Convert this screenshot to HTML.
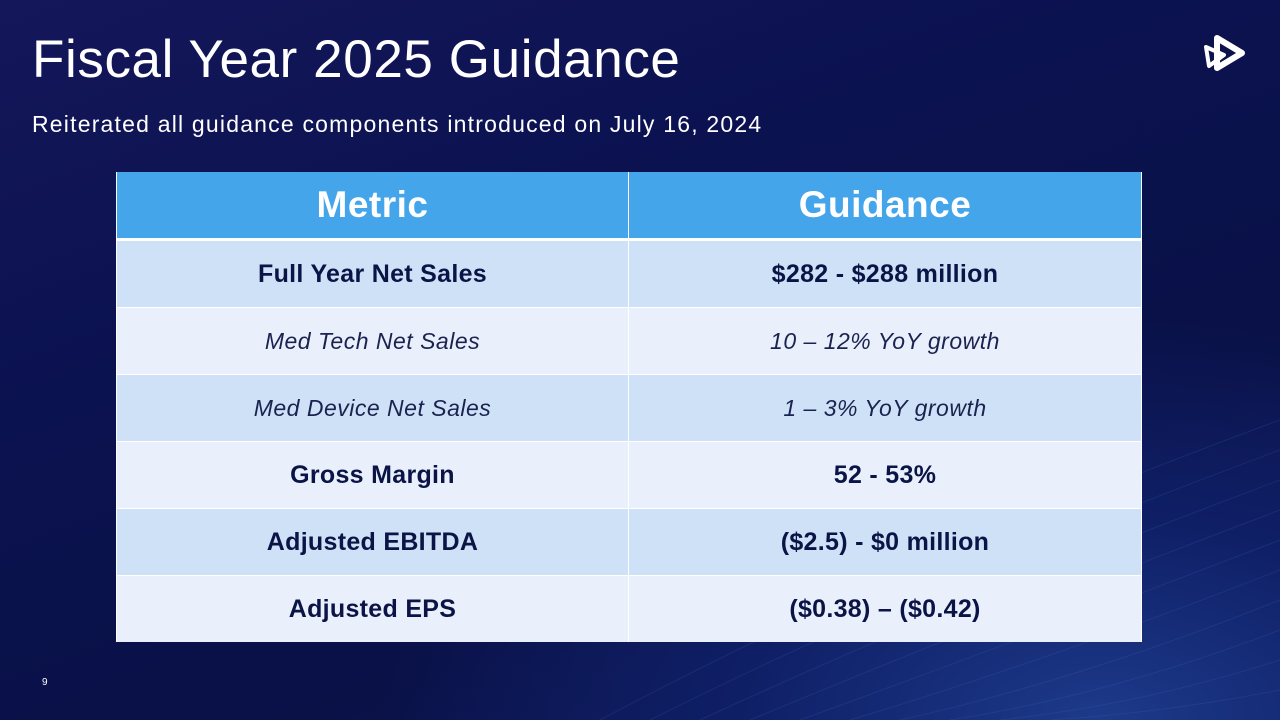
<!DOCTYPE html>
<html><head><meta charset="utf-8"><style>
body{margin:0;width:1280px;height:720px;overflow:hidden;font-family:"Liberation Sans",sans-serif;}
#slide{position:relative;width:1280px;height:720px;background:radial-gradient(ellipse 900px 500px at 1100px 720px,#1d3a8a 0%,#0f1f66 40%,rgba(10,18,72,0) 80%),linear-gradient(160deg,#14175a 0%,#0b1250 35%,#0a1147 70%,#101a5c 100%);}
h1{position:absolute;left:32px;top:29px;margin:0;font-weight:normal;font-size:53px;color:#fff;letter-spacing:0.6px}
.sub{position:absolute;left:32px;top:111px;font-size:23px;color:#fff;letter-spacing:1.2px}
table{position:absolute;left:116px;top:172px;width:1025px;border-collapse:collapse;table-layout:fixed}
td,th{text-align:center;border-left:1px solid #fff;border-right:1px solid #fff;font-size:25px;color:#0b1446;padding:0;letter-spacing:0.3px}
th{background:#44a5ea;color:#fff;font-size:37px;height:66px;border-bottom:3px solid #fff;letter-spacing:0.5px}
tr.a td{background:#cfe1f6;height:66px;border-top:1px solid #fff}
tr.b td{background:#e9f0fb;height:66px;border-top:1px solid #fff}
td.bold{font-weight:bold}
td.it{font-style:italic;font-size:23px;color:#1a2250;letter-spacing:0.5px}
.pg{position:absolute;left:42px;top:677px;font-size:10px;color:#fff}
</style></head><body>
<div id="slide">
<svg width="1280" height="720" style="position:absolute;left:0;top:0">
<g fill="none" stroke="#4a6fc4" stroke-opacity="0.18" stroke-width="1">
<path d="M600 720 Q900 560 1280 420"/><path d="M650 720 Q930 580 1280 450"/><path d="M700 720 Q960 600 1280 480"/><path d="M750 720 Q990 620 1280 510"/><path d="M800 720 Q1020 640 1280 540"/><path d="M850 720 Q1050 660 1280 570"/><path d="M900 720 Q1080 680 1280 600"/><path d="M950 720 Q1110 695 1280 630"/><path d="M1000 720 Q1140 705 1280 660"/><path d="M1050 720 Q1170 712 1280 690"/>
</g></svg>
<h1>Fiscal Year 2025 Guidance</h1>
<div class="sub">Reiterated all guidance components introduced on July 16, 2024</div>
<svg style="position:absolute;left:1200px;top:32px" width="48" height="42" viewBox="0 0 48 42">
<path d="M17 6 L42 21 L17 36 Z" fill="none" stroke="#fff" stroke-width="6" stroke-linejoin="round"/>
<path d="M6 15 L24 23 L9 34 Z" fill="none" stroke="#fff" stroke-width="4" stroke-linejoin="round"/>
</svg>
<table>
<colgroup><col style="width:512px"><col style="width:513px"></colgroup>
<tr><th>Metric</th><th>Guidance</th></tr>
<tr class="a"><td class="bold">Full Year Net Sales</td><td class="bold">$282 - $288 million</td></tr>
<tr class="b"><td class="it">Med Tech Net Sales</td><td class="it">10 – 12% YoY growth</td></tr>
<tr class="a"><td class="it">Med Device Net Sales</td><td class="it">1 – 3% YoY growth</td></tr>
<tr class="b"><td class="bold">Gross Margin</td><td class="bold">52 - 53%</td></tr>
<tr class="a"><td class="bold">Adjusted EBITDA</td><td class="bold">($2.5) - $0 million</td></tr>
<tr class="b"><td class="bold">Adjusted EPS</td><td class="bold">($0.38) – ($0.42)</td></tr>
</table>
<div class="pg">9</div>
</div>
</body></html>
